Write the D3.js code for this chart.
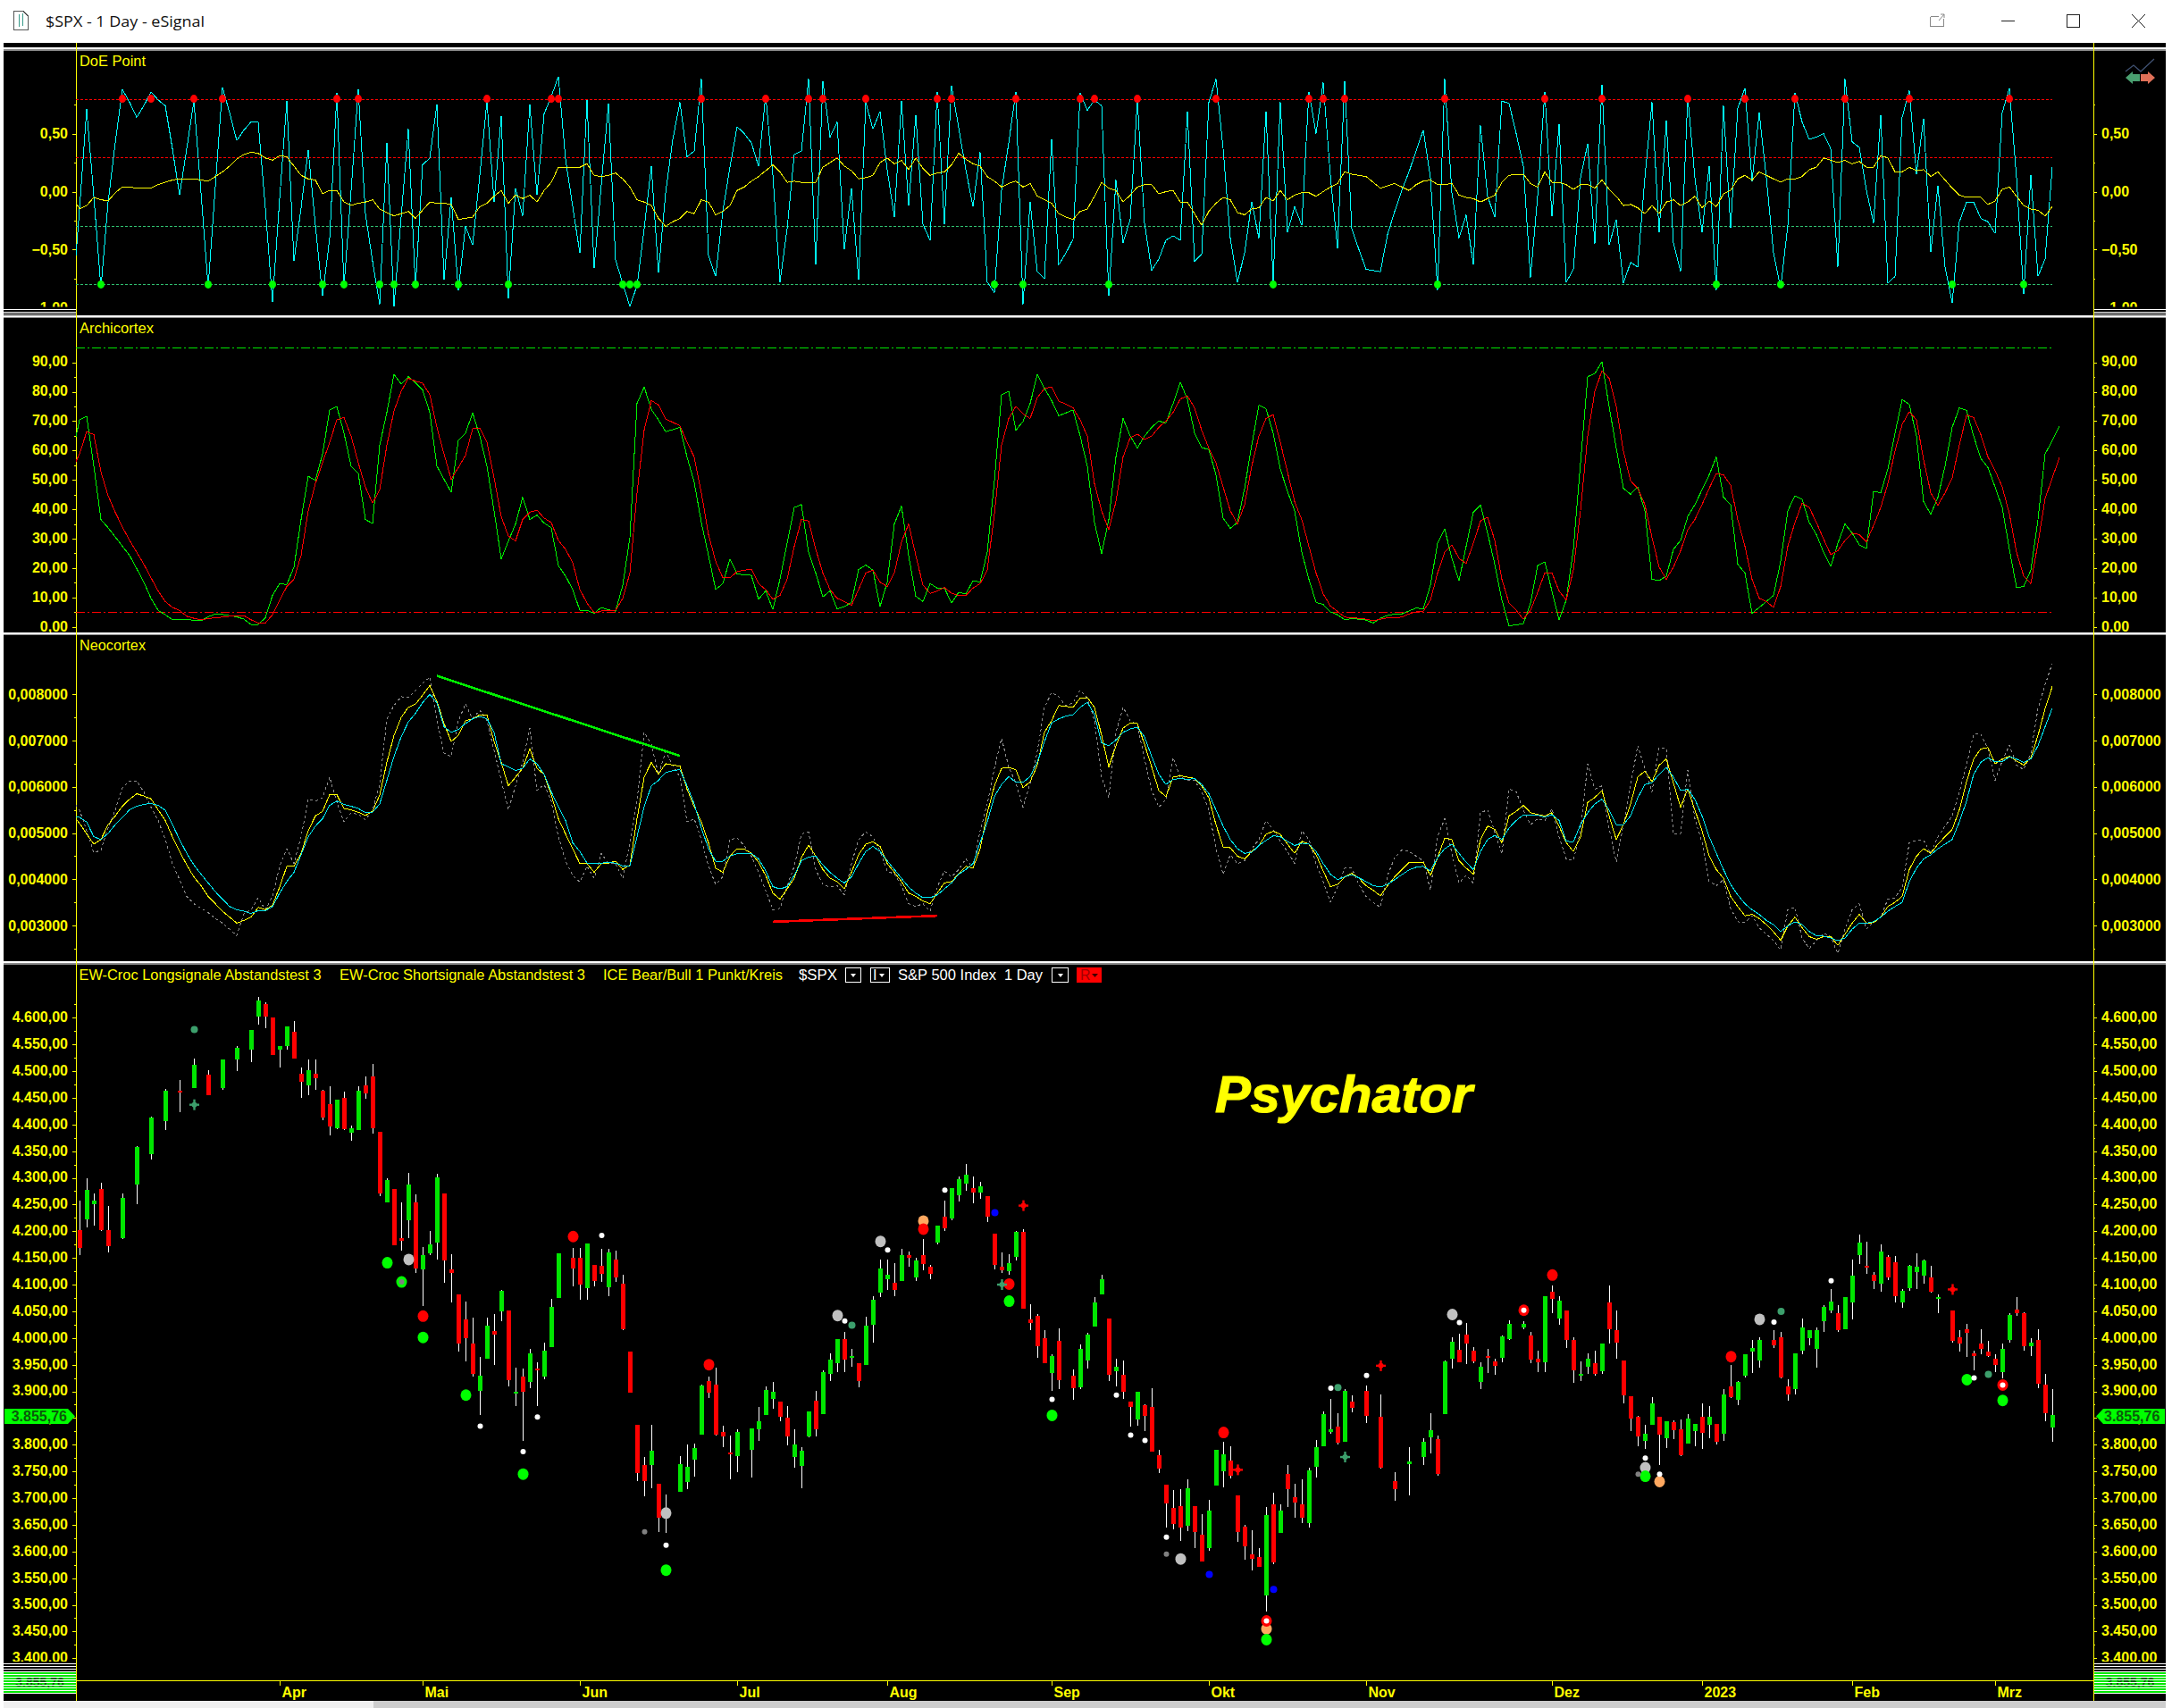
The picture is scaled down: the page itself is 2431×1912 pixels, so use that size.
<!DOCTYPE html>
<html><head><meta charset="utf-8"><title>$SPX - 1 Day - eSignal</title>
<script src="https://cdn.jsdelivr.net/npm/d3@7"></script>
<style>html,body{margin:0;padding:0;background:#fff;overflow:hidden}svg{display:block}
text{font-family:"Liberation Sans",Arial,sans-serif}</style></head><body><div id="c"></div>
<script>
// ---------- Price panel candles (null = bar is not visible in the chart) ----------
const opens=[4202,4222,4251,4279,4202,null,4187,null,4287,null,4344,null,4406,null,4463,null,4468,null,4493,null,
4468,null,4522,null,4540,4602,4626,4600,4540,4547,4574,4495,4473,4495,4463,4438,4393,4450,4385,4390,
4473,4490,4386,4254,4279,4187,4220,4254,4128,4159,4179,4271,4128,4082,4035,3990,3901,3961,4013,4050,
4051,3896,3927,3917,3942,3927,3983,4075,null,4150,4150,4093,4137,4135,4095,4147,4102,3974,3837,3762,
3762,3727,3664,null,3712,3731,3772,3819,3919,3912,3824,3786,3779,null,3791,3829,3856,3886,3881,3851,
3777,3761,3816,3882,3857,3932,3953,3998,3963,3953,3949,4025,4085,4110,4103,4107,4155,4113,4155,4134,
4179,4227,4224,4267,4289,4281,4272,4265,4195,4134,4125,4152,4199,4034,4041,4000,3934,3995,null,3929,
3907,3958,4021,4082,4036,3938,3931,3881,3847,3874,3870,3780,3725,3681,3685,3648,3685,3631,3606,3724,
3750,3770,3705,3646,3594,3589,3517,3688,3634,3745,3701,3688,3653,3758,3797,3824,3834,3805,3881,null,
3901,null,3852,null,3732,null,3763,null,3777,3814,3810,3857,3961,3978,4006,3976,3917,3966,3956,3963,
3998,null,4020,4004,3962,3954,4086,4037,4051,3996,3930,3946,3952,3937,4067,4014,3957,3891,3852,3807,
3837,3852,3812,3842,3829,3802,3825,3852,3837,3839,3820,3909,3885,3929,3974,3957,null,3997,4001,3910,
3905,3976,3999,3980,4032,4051,4047,4017,4067,4156,4136,4119,4102,4152,4142,4066,4094,4124,4116,4114,
4074,null,4051,4001,4017,3972,3990,3975,3962,3936,3996,4054,4047,3984,3997,3912,3832];
const closes=[4169,4277,4258,4203,4172,null,4262,null,4358,null,4413,null,4463,null,4460,null,4512,null,4455,null,
4522,null,4544,null,4577,4632,4602,4530,4547,4584,4524,4480,4502,4487,4413,4396,4446,4391,4393,4463,
4458,4393,4271,4296,4174,4182,4287,4130,4155,4175,4301,4145,4122,3990,4000,3933,3929,4023,4006,4088,
3921,3899,3899,3972,3939,3977,4058,4159,null,4130,4100,4177,4107,4120,4160,4113,4016,3897,3747,3732,
3789,3664,3674,null,3764,3759,3794,3911,3897,3819,3816,3782,3824,null,3831,3844,3902,3899,3852,3816,
3801,3789,3862,3829,3936,3959,3998,3959,3966,3919,4023,4072,4130,4118,4090,4155,4150,4145,4138,4120,
4210,4205,4281,4298,4306,4272,4284,4227,4137,4127,4140,4199,4055,4028,3984,3953,3966,3921,null,3906,
3979,4006,4067,4110,3931,3946,3899,3870,3899,3854,3787,3755,3690,3651,3645,3718,3636,3582,3677,3790,
3782,3742,3636,3610,3586,3572,3668,3579,3677,3717,3691,3663,3752,3795,3857,3829,3804,3901,3869,null,
3854,null,3757,null,3717,null,3769,null,3805,3827,3745,3956,3993,3955,3989,3956,3946,3963,3948,4003,
4026,null,4026,3960,3954,4079,4074,4070,3996,3939,3932,3962,3932,3989,4017,3992,3892,3849,3815,3820,
3877,3819,3844,3827,3780,3849,3839,3822,3852,3805,3894,3889,3917,3969,3982,3997,null,3987,3926,3895,
3971,4019,4015,4015,4059,4069,4015,4076,4117,4179,4134,4107,4162,4114,4079,4089,4136,4134,4146,4087,
4077,null,3994,3989,4009,3967,3979,3967,3949,3980,4044,4046,3984,3991,3915,3859,3856];
const highs=[4258,4299,4270,4291,4247,null,4271,null,4360,null,4414,null,4467,null,4483,null,4523,null,4502,null,
4522,null,4547,null,4577,4639,4629,4600,4547,4584,4594,4507,4522,4522,4465,4472,4446,4462,4398,4472,
4490,4513,4386,4299,4279,4254,4309,4269,4170,4200,4308,4271,4157,4082,4069,4038,3964,4038,4045,4090,
4051,3944,3942,3980,3954,3991,4074,4159,null,4169,4169,4177,4137,4167,4167,4164,4119,3974,3837,3777,
3837,3727,3707,null,3779,3801,3802,3912,3927,3944,3836,3817,3829,null,3831,3871,3909,3917,3881,3872,
3829,3796,3862,3901,3939,3972,3998,4011,3979,3953,4040,4078,4147,4147,4140,4167,4162,4151,4186,4137,
4210,4257,4281,4303,4326,4303,4293,4265,4195,4160,4157,4200,4204,4063,4045,4015,3969,4018,null,3941,
3988,4010,4077,4119,4036,3961,3958,3881,3899,3876,3906,3790,3725,3715,3717,3735,3685,3670,3696,3790,
3805,3797,3705,3650,3639,3606,3683,3710,3688,3762,3727,3735,3757,3809,3862,3886,3859,3904,3893,null,
3911,null,3894,null,3748,null,3795,null,3812,3859,3817,3958,4001,4008,4028,3983,3955,3979,3961,4005,
4033,null,4032,4011,3976,4079,4099,4079,4051,4001,3956,3972,3976,3989,4099,4052,3957,3891,3854,3837,
3889,3852,3844,3845,3847,3857,3839,3877,3872,3839,3905,3949,3919,3969,3997,4002,null,4014,4012,3922,
3972,4037,4015,4019,4061,4092,4062,4076,4147,4194,4181,4124,4176,4156,4154,4092,4137,4159,4147,4136,
4081,null,4051,4015,4027,3977,4017,3995,3970,3989,4047,4077,4049,3999,4017,3932,3904];
const lows=[4155,4208,4211,4200,4161,null,4185,null,4250,null,4334,null,4390,null,4423,null,4468,null,4455,null,
4465,null,4500,null,4517,4587,4580,4530,4507,4540,4524,4450,4455,4465,4408,4380,4391,4390,4370,4390,
4448,4383,4266,4254,4174,4164,4187,4122,4060,4155,4147,4103,4067,3974,3956,3928,3856,3961,3949,4031,
3909,3873,3807,3906,3872,3922,3983,4075,null,4097,4072,4072,4097,4105,4078,4105,4015,3897,3732,3704,
3719,3637,3634,null,3712,3716,3741,3819,3887,3817,3796,3736,3749,null,3739,3807,3856,3867,3844,3799,
3757,3719,3814,3816,3857,3919,3936,3936,3946,3908,3949,3991,4077,4090,4078,4107,4134,4106,4127,4110,
4176,4201,4220,4256,4276,4252,4260,4217,4129,4122,4119,4145,4055,4015,3963,3953,3901,3904,null,3884,
3904,3943,4021,4082,3919,3909,3886,3834,3836,3825,3787,3747,3645,3641,3620,3638,3606,3581,3601,3724,
3720,3737,3618,3584,3564,3572,3487,3576,3634,3683,3663,3653,3645,3738,3797,3820,3800,3805,3860,null,
3841,null,3755,null,3695,null,3705,null,3762,3784,3742,3857,3943,3955,3951,3953,3904,3934,3931,3955,
3996,null,4017,3952,3936,3936,4047,4024,3982,3916,3920,3932,3930,3932,3990,3962,3877,3826,3797,3792,
3837,3762,3794,3810,3779,3802,3797,3792,3812,3800,3807,3887,3874,3926,3934,3945,null,3982,3924,3882,
3895,3969,3987,3945,4011,4046,4012,4017,4034,4139,4121,4091,4086,4109,4067,4057,4089,4092,4101,4085,
4046,null,3992,3974,3965,3940,3970,3965,3936,3925,3992,4042,3977,3967,3906,3844,3805];
// ---------- Signal markers on the price panel: [bar, price] ----------
const bigGreen=[[43,4141],[45,4105],[48,4001],[54,3893],[62,3745],[82,3565],[130,4069],[136,3855],[166,3435],[219,3741],[264,3922],[269,3883]];
const bigRed=[[48,4041],[69,4190],[88,3950],[118,4204],[130,4101],[160,3823],[206,4118],[231,3965]];
const bigSilver=[[46,4147],[82,3672],[106,4042],[112,4181],[154,3586],[192,4044],[219,3757],[235,4035]];
const bigOrange=[[118,4219],[166,3455],[221,3731]];
const smallWhite=[[56,3835],[62,3787],[64,3852],[73,4192],[82,3612],[107,4032],[113,4165],[121,4277],[136,3885],[145,3893],[147,3818],[149,3808],[152,3627],[175,3906],[180,3930],[193,4029],[219,3775],[221,3745],[237,4030],[245,4107],[265,3925]];
const smallGray=[[45,4105],[79,3637],[152,3595],[218,3745]];
const tealDots=[[16,4578],[108,4024],[176,3907],[238,4050],[267,3932]];
const blueDots=[[128,4235],[158,3557],[167,3529]];
const tealPlus=[[16,4437],[129,4100],[177,3777]];
const redPlus=[[132,4248],[162,3753],[182,3948],[262,4091]];
const rings=[[166,3470],[202,4052],[269,3912]];
// ---------- DoE Point (first value is the clipped bar before bar 0) ----------
const doeCyan=[-.96,-.15,.71,-.04,-.83,-.09,.42,.88,.77,.64,.74,.86,.79,.74,.37,-.03,.37,.78,-.01,-.82,.04,.90,.68,.44,.53,.60,.60,-.14,-.95,-.06,.78,-.60,-.14,.36,-.29,-.90,-.40,.85,-.82,.01,.88,-.19,-.60,-.97,.42,-.99,-.22,.54,-.83,.23,.29,.75,-.76,-.05,-.85,-.30,-.46,.14,.78,-.09,.65,-.92,.03,-.21,.75,-.03,.67,.82,.99,.28,-.13,-.53,.79,-.66,.06,.76,-.59,-.79,-.99,-.81,-.32,.22,-.70,-.01,.45,.77,.30,.35,.97,-.55,
-.73,-.17,.21,.56,.50,.42,.22,.83,.14,-.78,-.32,.32,.35,.97,-.63,.95,.47,.60,-.50,.03,-.76,.77,.54,.69,.19,-.22,.78,-.12,.66,-.28,-.42,.86,-.28,.91,.55,.19,-.13,.34,-.78,-.87,.01,.42,.86,-.97,-.09,-.69,-.75,.45,-.63,-.53,-.41,.85,.70,.79,.74,-.90,.10,-.44,-.24,.79,-.27,-.68,-.58,-.42,-.38,-.42,.69,-.60,-.54,.77,.97,.37,-.40,-.78,-.53,-.09,-.40,.69,-.78,.77,-.35,-.13,-.29,.86,.50,.94,.14,-.49,.95,-.32,-.50,-.67,-.68,-.69,-.37,-.17,.01,.17,.35,.53,.12,-.85,.97,-.01,
-.40,-.20,-.63,.57,-.04,-.22,.78,.76,.50,.22,-.74,-.04,.86,-.21,.58,-.78,-.67,.12,.41,-.45,.92,-.46,-.24,-.79,-.61,-.65,.12,.77,-.35,.61,-.44,-.69,.82,.12,-.35,.22,-.85,.74,-.31,.72,.89,.09,.68,.12,-.53,-.83,-.29,.85,.60,.45,.47,.50,.37,-.65,.97,.43,.38,.01,-.27,.66,-.79,-.73,.64,.87,.15,.63,-.52,.05,-.65,-.96,-.26,-.09,-.09,-.23,-.26,-.36,.68,.89,.12,-.88,.14,-.73,-.58,.21];
const doeYellow=[-.04,-.15,-.12,-.05,-.07,-.08,-.01,.04,.04,.03,.03,.03,.06,.08,.10,.11,.11,.11,.10,.09,.13,.17,.22,.28,.32,.34,.33,.29,.27,.31,.30,.22,.14,.11,.10,-.02,.01,.01,-.09,-.12,-.10,-.09,-.07,-.15,-.18,-.21,-.19,-.17,-.23,-.16,-.09,-.10,-.10,-.11,-.24,-.23,-.22,-.13,-.10,-.04,.01,-.10,-.03,-.06,-.03,-.09,.01,.08,.21,.21,.21,.21,.24,.14,.13,.14,.16,.11,.04,-.07,-.09,-.12,-.23,-.30,-.26,-.23,-.17,-.19,-.07,-.09,
-.20,-.17,-.12,.01,.04,.09,.13,.18,.23,.17,.08,.09,.08,.08,.08,.21,.25,.29,.22,.18,.11,.12,.14,.25,.29,.24,.27,.19,.29,.20,.14,.16,.17,.23,.33,.28,.24,.22,.13,.09,.04,.07,.09,.04,.07,-.04,-.07,-.10,-.19,-.22,-.24,-.17,-.15,-.04,.08,.03,.01,-.09,-.03,.04,.06,.06,-.02,0,.01,-.09,-.09,-.19,-.29,-.17,-.10,-.05,-.07,-.18,-.20,-.15,-.14,-.05,-.08,.01,-.07,-.03,-.01,-.01,-.04,0,.04,.07,.17,.15,.14,.13,.08,.03,.05,.07,.04,.01,.06,.09,.10,.06,.06,.07,
-.03,-.05,-.06,-.09,-.06,-.03,.08,.14,.15,.15,.07,.04,.17,.08,.08,.06,.02,.06,.06,.03,.10,.02,-.04,-.12,-.11,-.14,-.19,-.12,-.19,-.09,-.07,-.12,-.09,-.04,-.14,-.08,-.13,-.02,.01,.11,.14,.10,.17,.14,.11,.08,.11,.11,.13,.19,.21,.29,.27,.25,.27,.24,.26,.21,.21,.31,.29,.17,.17,.21,.18,.19,.13,.17,.10,.03,-.03,-.05,-.05,-.05,-.11,-.08,.02,.04,-.04,-.12,-.15,-.16,-.21,-.13];
const doeHighDots=[6,10,16,20,36,39,57,66,67,87,96,102,104,110,120,122,131,140,142,148,159,172,174,177,191,205,213,225,233,240,247,256,270];
const doeLowDots=[-1,3,18,27,34,37,42,44,47,53,60,76,77,78,128,132,144,167,190,229,238,262,272];
const doeLevels=[0.8,0.3,-0.3,-0.8];
// ---------- Archicortex (first value is the clipped bar before bar 0) ----------
const archiGreen=[58.8,70.4,71.6,54.7,36.5,33.7,30.6,27.4,24.3,19.8,15.2,9.7,5.6,4.1,2.4,2.4,2.4,2.3,2.1,3.4,4.4,4.2,3.8,3.4,2.6,.8,.8,3.1,10.7,14.7,14.4,20.3,36.5,51.2,49.9,58.8,73.8,75,65.9,54.7,52.2,36.5,35.2,61.8,73,85.9,82.6,85.1,83.1,80.6,73,54.7,50.2,45.8,63.4,65.9,72.8,64.9,54.7,39.5,23.1,29.2,35,44.1,36.5,38,35.3,33.7,20.8,17.3,12.7,5.6,5.6,4.6,6.6,5.8,5.3,14.2,30.4,76,81.6,74,70.4,66.4,67.1,67.9,57.8,49.2,35.5,24.3,12.7,14.7,23.1,18,17.7,17.5,9.4,12.2,5.9,16.2,28.4,40.6,41.6,25.4,18.3,10.2,12.2,6.1,6.9,8.3,19.5,21,19.3,6.9,15.2,35,41.1,24.3,10.4,8.6,14.7,13.2,13.2,8.1,11.7,11.2,15.7,15.2,25.4,49.7,78.9,80.1,66.9,69.9,76,85.9,81.1,77,71.8,
72.8,73.8,64.9,54.7,35.5,24.9,36.5,57.8,70.9,64.9,60.8,64.9,67.9,70,69.4,76,83.3,77.5,65.9,61,60.3,51.7,37,33.5,35.5,47.1,61.8,75.4,74.2,65.9,53.7,46.1,39.5,25.4,16.2,8.3,7.6,5.1,4.1,2.4,2.8,2.6,2.3,1.3,2.9,3.9,4.3,4.4,5.4,6.4,6.1,14.2,28.4,33.3,23.3,15.7,27.4,39,41.4,31.9,21.3,9.1,.3,.7,1,8.1,20.8,22.1,12.2,2.4,9.1,26.4,55.8,85.1,86.2,90.2,75,60.8,47.1,45.1,47.6,39.5,16.2,15.7,17.3,26.4,29.4,37.5,41.6,46.6,51.7,57.8,44.1,41.6,21.3,18.3,4.6,6.6,8.6,10.7,22.3,39.5,44.6,43.4,35.5,31.4,25.4,20.5,28.4,35,31.9,27.9,26.6,46.1,45.6,53.7,65.9,77.3,75.7,64.9,42.6,38.3,44.1,54.7,67.9,74.5,73.7,64.9,57.3,54.2,47.6,40.6,26.4,13.4,13.7,19.3,36.5,58.8,63.4,68.4];
const archiRed=[53.7,58.8,66.4,65.4,52.7,44.6,39,34,29.4,25.4,21.3,16.7,12.2,8.6,6.6,5.6,3.6,2.9,2.4,2.8,3.1,3.3,3.6,3.8,3.8,2.4,1.3,1.3,4.1,9.1,13.7,16.2,24.3,39.5,48.7,55.8,62.8,70.4,71.2,64.9,55.8,47.6,42.1,46.6,61.8,73.5,80.1,84.6,83.6,82.9,79,67.9,58.8,50.2,54.2,58.3,67.4,67.7,62.8,50.7,37.5,30.9,29.2,36.5,39,39.7,37,35.5,29.4,26.4,21.8,12.7,8.1,4.8,5.4,5.6,5.6,9.7,18.3,45.6,66.9,77,75.5,70.7,69.6,68.4,62.8,57.8,45.6,31.4,22.3,16.7,16.7,18.8,19.3,19.6,14.7,12.7,9.4,10.7,16.2,27.4,36.5,36,26.4,18.3,12.7,9.7,8.6,7.3,12.7,18.3,19.3,15.2,13.7,18.3,28.9,35,24.3,14.2,11.4,12.2,13.4,11.4,10.7,10.7,13.2,14.7,19.3,38.5,61.8,70.9,75,72.5,70.9,78,81.1,81.6,76.8,
75.8,74.5,70.4,64.9,48.7,39.5,33,42.6,57.8,64.4,65.6,63.7,64.9,67.9,70,73,77.5,78.6,74.5,66.9,60.8,55.8,47.6,39.5,35,41.6,54.7,64.9,70.9,72.2,62.8,52.7,42.6,36.5,27.4,18.3,11.2,7.1,5.3,3.3,3.1,2.9,2.6,2.1,2.6,3.1,3.1,3.3,4.4,5.1,5.3,9.1,18.3,25.4,27.9,23.3,21.5,28.4,36,37.3,29.4,16.2,8.1,5.6,2.6,5.6,11.7,18.3,18.3,12.2,9.1,19.3,39.5,64.9,80.1,87.2,84.6,75,59.8,49.7,47.1,41.6,30.4,20.3,16.2,20.3,25.9,33,36.5,41.6,47.1,52.2,51.7,48.2,36.5,27.4,16.2,9.7,8.6,6.6,13.7,27.4,35.5,42.1,40.6,35.5,29.9,24.6,25.9,29.4,31.9,31.4,28.9,34.5,40.6,48.7,59.8,68.9,73.2,70.4,56.8,45.6,41.4,45.6,50.7,61.8,72,71.2,65.4,57.8,53.2,47.6,38.5,25.4,17.3,14.7,28.4,43.6,50.7,57.5];
const archiLevels=[95,5];
// ---------- Neocortex, in thousandths (first value is the clipped bar before bar 0) ----------
const neoYellow=[5.4,5.21,4.98,4.76,4.86,5.18,5.37,5.58,5.73,5.85,5.80,5.74,5.50,5.27,4.92,4.60,4.31,4.05,3.86,3.63,3.47,3.31,3.18,3.05,3.11,3.18,3.39,3.34,3.44,3.83,4.28,4.28,4.56,5.05,5.37,5.47,5.83,5.83,5.53,5.50,5.45,5.38,5.47,5.82,6.53,7.11,7.50,7.72,7.79,7.98,8.19,7.85,7.37,6.98,7.11,7.43,7.47,7.56,7.56,6.98,6.53,6.02,6.21,6.40,6.82,6.40,6.27,5.82,5.31,4.98,4.66,4.34,4.34,4.15,4.34,4.35,4.39,4.21,4.31,5.31,6.21,6.53,6.27,6.50,6.47,6.45,5.95,5.57,5.24,4.79,4.24,4.15,4.50,4.66,4.65,4.56,4.37,4.08,3.70,3.57,3.79,4.02,4.47,4.74,4.50,4.21,4.02,3.95,3.79,4.15,4.53,4.76,4.81,4.71,4.34,4.15,3.95,3.70,3.63,3.53,3.47,3.70,3.92,3.95,4.11,4.28,4.24,4.66,5.43,6.02,6.40,6.42,6.37,5.98,6.11,6.47,7.18,7.43,7.76,7.74,
7.72,7.92,7.93,7.72,7.11,6.43,6.89,7.27,7.38,7.37,6.92,6.43,5.92,5.79,6.21,6.24,6.21,6.18,6.02,5.76,5.18,4.70,4.68,4.50,4.44,4.60,4.73,4.97,5.04,4.97,4.76,4.56,4.82,4.76,4.53,4.18,3.84,3.89,4.05,4.13,4.02,3.86,3.76,3.64,3.86,4.05,4.21,4.36,4.37,4.37,4.08,4.47,4.89,4.86,4.40,4.24,4.11,4.86,5.15,5.08,4.79,5.37,5.47,5.60,5.44,5.40,5.37,5.44,5.15,4.79,4.60,4.92,5.66,5.77,5.92,5.37,4.86,5.18,5.63,6.21,6.34,6.11,6.47,6.60,6.08,5.56,5.95,5.50,5.05,4.50,4.21,4.02,3.63,3.41,3.21,3.24,3.15,3.02,2.86,2.68,2.99,3.18,2.95,2.76,2.70,2.76,2.76,2.57,2.81,3.05,3.24,3.05,3.06,3.18,3.41,3.50,3.63,4.21,4.50,4.66,4.56,4.76,4.92,5.08,5.50,6.11,6.60,6.82,6.85,6.50,6.60,6.66,6.56,6.47,6.63,7.11,7.69,8.17];
const neoCyan=[5.36,5.34,5.24,4.92,4.86,4.99,5.18,5.34,5.50,5.58,5.62,5.64,5.60,5.49,5.18,4.86,4.56,4.31,4.11,3.92,3.73,3.57,3.41,3.34,3.31,3.26,3.32,3.32,3.41,3.70,3.95,4.15,4.53,4.92,5.15,5.31,5.60,5.69,5.62,5.58,5.53,5.44,5.45,5.63,6.14,6.66,7.08,7.40,7.59,7.82,8.00,7.82,7.30,7.18,7.24,7.37,7.47,7.52,7.47,7.18,6.50,6.43,6.35,6.40,6.60,6.50,6.27,5.89,5.57,5.27,4.79,4.60,4.35,4.34,4.35,4.36,4.35,4.29,4.29,4.92,5.57,6.02,6.14,6.31,6.35,6.37,6.02,5.63,5.11,4.66,4.39,4.39,4.50,4.55,4.56,4.56,4.44,4.18,3.84,3.79,3.84,4.08,4.40,4.48,4.50,4.31,4.15,4.02,3.92,4.05,4.34,4.60,4.71,4.60,4.40,4.21,4.02,3.83,3.70,3.60,3.60,3.66,3.79,3.92,4.11,4.21,4.34,4.79,5.24,5.79,6.05,6.22,6.10,6.10,6.22,6.53,6.98,7.38,7.47,7.53,
7.56,7.72,7.83,7.56,6.95,6.89,7.01,7.18,7.25,7.29,7.08,6.66,6.27,6.05,6.16,6.18,6.16,6.18,6.05,5.85,5.50,5.15,4.86,4.66,4.56,4.58,4.73,4.84,4.94,4.92,4.82,4.73,4.78,4.76,4.60,4.34,4.11,3.99,4.05,4.10,4.03,3.95,3.86,3.83,3.89,3.99,4.10,4.20,4.26,4.28,4.18,4.47,4.66,4.76,4.56,4.37,4.21,4.60,4.86,4.95,4.86,5.11,5.27,5.39,5.39,5.39,5.34,5.40,5.27,4.82,4.81,5.18,5.44,5.63,5.73,5.50,5.18,5.18,5.37,5.76,6.05,6.09,6.27,6.42,6.21,5.92,5.95,5.73,5.37,4.92,4.56,4.21,3.89,3.66,3.47,3.34,3.24,3.11,3.02,2.87,2.99,3.08,3.02,2.87,2.78,2.77,2.73,2.67,2.73,2.92,3.05,3.05,3.08,3.18,3.31,3.41,3.50,3.95,4.24,4.44,4.53,4.66,4.76,4.86,5.24,5.69,6.27,6.53,6.63,6.54,6.54,6.65,6.60,6.53,6.60,6.89,7.30,7.70];
const neoGray=[5.7,5.50,5.05,4.57,4.63,5.11,5.50,5.98,6.13,6.13,5.89,5.56,5.27,4.86,4.34,3.99,3.63,3.47,3.37,3.28,3.15,3.05,2.92,2.78,3.25,3.34,3.60,3.34,3.63,4.28,4.66,4.34,4.92,5.73,5.69,5.76,6.21,5.66,5.24,5.44,5.40,5.29,5.50,6.05,7.47,7.76,7.95,7.93,8.08,8.24,8.37,7.43,6.73,6.65,7.43,7.79,7.47,7.66,7.43,6.79,6.14,5.50,6.02,6.53,7.27,5.92,6.05,5.69,4.92,4.40,4.08,3.94,4.28,4.02,4.56,4.34,4.34,4.02,4.79,5.69,7.18,6.92,6.27,6.76,6.47,6.21,5.24,5.31,4.86,4.28,3.89,4.05,4.86,4.89,4.73,4.50,4.15,3.76,3.34,3.37,3.86,4.28,4.98,5.02,4.21,3.89,3.83,3.86,3.66,4.34,4.86,5.02,4.92,4.60,4.18,4.11,3.86,3.47,3.41,3.47,3.31,3.83,4.18,4.05,4.21,4.44,4.24,5.05,5.63,6.40,7.05,6.43,6.08,5.56,6.08,6.76,7.72,8.04,7.95,7.75,
7.82,8.09,7.92,7.43,6.21,5.77,7.18,7.72,7.43,7.34,6.60,5.92,5.56,5.73,6.63,6.21,6.14,6.14,5.89,5.50,4.66,4.11,4.53,4.34,4.40,4.66,4.86,5.27,5.08,4.82,4.60,4.34,5.05,4.86,4.34,3.95,3.50,3.83,4.24,4.24,3.89,3.63,3.50,3.39,4.08,4.47,4.63,4.60,4.50,4.40,3.76,4.92,5.31,4.56,3.92,4.08,3.92,5.44,5.50,5.02,4.55,5.95,5.89,5.50,5.18,5.31,5.27,5.53,4.92,4.44,4.40,5.05,6.50,5.95,6.02,5.11,4.37,5.18,6.02,6.89,6.40,5.89,6.85,6.82,4.98,4.98,6.37,5.31,4.79,3.95,3.86,3.99,3.37,3.08,3.06,3.21,2.95,2.81,2.67,2.47,3.34,3.39,2.73,2.50,2.67,2.83,2.76,2.39,2.92,3.34,3.47,2.92,3.08,3.18,3.57,3.60,3.83,4.79,4.84,4.84,4.56,4.92,5.15,5.37,5.89,6.47,7.14,7.14,6.82,6.14,6.56,6.90,6.47,6.37,6.73,7.69,8.21,8.67];
const neoTrendGreen=[[50,8.40],[84,6.67]];
const neoTrendRed=[[97,3.08],[120,3.21]];
// ---------- Axis ticks and labels ----------
const doeTicks=[0.5,0,-0.5,-1], doeMinor=[0.75,0.25,-0.25,-0.75];
const archiTicks=[0,10,20,30,40,50,60,70,80,90], archiMinor=[5,15,25,35,45,55,65,75,85];
const neoTicks=[3,4,5,6,7,8], neoMinor=[2.5,3.5,4.5,5.5,6.5,7.5];
const priceTicks=d3.range(3400,4601,50), priceMinor=d3.range(3425,4626,50);
const monthBars=[28,48,70,92,113,136,158,180,206,227,248,268];
const monthLabels=["Apr","Mai","Jun","Jul","Aug","Sep","Okt","Nov","Dez","2023","Feb","Mrz"];
const lastPrice=3855.76;

const W=2431,H=1912,AL=85,AR=2343;
const YEL="#ffff00",GRN="#00e600",RED="#ff0000";
const svg=d3.select("#c").append("svg").attr("width",W).attr("height",H).attr("viewBox",`0 0 ${W} ${H}`);
const x=d3.scaleLinear().domain([0,276]).range([89,2297]);
const yDoe=d3.scaleLinear().domain([1,-1]).range([84.6,344.4]);
const yArchi=d3.scaleLinear().domain([0,90]).range([701.7,405.6]);
const yNeo=d3.scaleLinear().domain([8,3]).range([777.3,1036]);
const yPrice=d3.scaleLinear().domain([4600,3400]).range([1139.3,1856.3]);
const de=d3.formatLocale({decimal:",",thousands:".",grouping:[3],currency:["",""]});
const f2=de.format(",.2f"), f6=de.format(".6f");

// window frame
svg.append("rect").attr("width",W).attr("height",H).attr("fill","#fff");
svg.append("rect").attr("x",4).attr("y",48).attr("width",2420).attr("height",1856).attr("fill","#000");
svg.append("rect").attr("x",4).attr("y",1904).attr("width",414).attr("height",8).attr("fill","#f0f0f0");
svg.append("rect").attr("x",418).attr("y",1904).attr("width",2006).attr("height",8).attr("fill","#cdcdcd");
svg.append("text").attr("x",51).attr("y",29.5).attr("fill","#111").attr("font-size",16.5).style("font-family","'Open Sans'").attr("textLength",178).attr("lengthAdjust","spacingAndGlyphs").text("$SPX - 1 Day - eSignal");
const ic=svg.append("g").attr("fill","none").attr("stroke","#555").attr("shape-rendering","crispEdges");
ic.append("path").attr("d","M15.5 12.5H26L31.5 18V33.5H15.5Z");
ic.append("path").attr("d","M21.5 16V30M25.5 15V29").attr("stroke","#3a9a8a");
ic.append("path").attr("d","M2160.5 18.5H2170M2160.5 18.5V29.5H2175.5V21").attr("stroke","#888");
ic.append("path").attr("d","M2170 23L2176 16M2172 16H2176V20").attr("stroke","#888").attr("shape-rendering","auto");
ic.append("path").attr("d","M2240 23.5H2255").attr("stroke","#222");
ic.append("rect").attr("x",2313.5).attr("y",16.5).attr("width",14).attr("height",14).attr("stroke","#222");
ic.append("path").attr("d","M2386 16L2401 31M2401 16L2386 31").attr("stroke","#222").attr("shape-rendering","auto");

// separators
[[53,2,2],[353,2,1],[708,2,1],[1076,2,2]].forEach(([a,wh,gr])=>{
  svg.append("rect").attr("x",4).attr("y",a).attr("width",2420).attr("height",wh).attr("fill","#fff");
  svg.append("rect").attr("x",4).attr("y",a+wh).attr("width",2420).attr("height",gr).attr("fill","#8a8a8a");
});
[346,349,351].forEach(v=>{
  svg.append("rect").attr("x",4).attr("y",v).attr("width",81).attr("height",1).attr("fill","#fff");
  svg.append("rect").attr("x",AR).attr("y",v).attr("width",81).attr("height",1).attr("fill","#fff");
});

// clip regions
const defs=svg.append("defs");
function clip(id,y0,y1,x0=AL,x1=AR){defs.append("clipPath").attr("id",id).append("rect").attr("x",x0).attr("y",y0).attr("width",x1-x0).attr("height",y1-y0);}
clip("p1",57,346);clip("p2",356,708);clip("p3",711,1076);clip("p4",1080,1881);
clip("l1",57,343.5,0,W);clip("l2",356,708,0,W);clip("l3",711,1076,0,W);clip("l4",1080,1860,0,W);

function axes(y,major,minor,fmt,clipId,dy){
  [[d3.axisLeft,AL],[d3.axisRight,AR]].forEach(([A,px])=>{
    const g=svg.append("g").attr("clip-path",`url(#${clipId})`).append("g").attr("transform",`translate(${px},0)`);
    g.call(A(y).tickValues(major).tickFormat(fmt).tickSize(4).tickPadding(5));
    g.append("g").call(A(y).tickValues(minor).tickFormat("").tickSize(2));
    g.selectAll(".domain").remove();
    g.selectAll("line").attr("stroke",YEL).attr("shape-rendering","crispEdges");
    g.selectAll("text").attr("fill",YEL).attr("font-size",16).attr("font-weight","bold").attr("dy",dy).style("font-family","'Liberation Sans'");
  });
}
axes(yDoe,doeTicks,doeMinor,f2,"l1",".32em");
axes(yArchi,archiTicks,archiMinor,f2,"l2",".27em");
axes(yNeo,neoTicks,neoMinor,d=>f6(d/1000),"l3",".32em");
axes(yPrice,priceTicks,priceMinor,f2,"l4",".27em");

// axis frame lines
[AL,AR].forEach(px=>svg.append("rect").attr("x",px).attr("y",48).attr("width",1).attr("height",1856).attr("fill",YEL));

// x axis
const xg=svg.append("g").attr("transform","translate(0,1881)");
xg.call(d3.axisBottom(x).tickValues(monthBars).tickFormat((d,i)=>monthLabels[i]).tickSize(6).tickPadding(2));
xg.select(".domain").remove();
xg.selectAll("line").attr("stroke",YEL).attr("shape-rendering","crispEdges");
xg.selectAll("text").attr("fill",YEL).attr("font-size",16).attr("font-weight","bold").attr("text-anchor","start").attr("x",2).style("font-family","'Liberation Sans'");
svg.append("rect").attr("x",AL).attr("y",1881).attr("width",AR-AL).attr("height",1).attr("fill",YEL);

// helpers
function poly(g,vals,y,color,w=1,dash=null){
  const ln=d3.line().x((d,i)=>x(i-1)).y(d=>y(d));
  const p=g.append("path").attr("d",ln(vals)).attr("fill","none").attr("stroke",color).attr("stroke-width",w).attr("shape-rendering","crispEdges");
  if(dash)p.attr("stroke-dasharray",dash);
  return p;
}
function level(g,v,y,color,dash,x1=2297){
  g.append("line").attr("x1",AL).attr("x2",x1).attr("y1",Math.round(y(v))+.5).attr("y2",Math.round(y(v))+.5).attr("stroke",color).attr("stroke-dasharray",dash).attr("shape-rendering","crispEdges");
}
function title(t,px,py,len,fill=YEL){
  svg.append("text").attr("x",px).attr("y",py).attr("fill",fill).attr("font-size",16).attr("textLength",len).attr("lengthAdjust","spacingAndGlyphs").text(t);
}

// DoE Point
const g1=svg.append("g").attr("clip-path","url(#p1)");
level(g1,doeLevels[0],yDoe,RED,"3,2");level(g1,doeLevels[1],yDoe,RED,"3,2");
level(g1,doeLevels[2],yDoe,"#30c070","3,2");level(g1,doeLevels[3],yDoe,"#30c070","3,2");
poly(g1,doeCyan,yDoe,"#00ffff");
poly(g1,doeYellow,yDoe,"#f4f400");
g1.selectAll(".hi").data(doeHighDots).join("ellipse").attr("cx",d=>x(d)).attr("cy",yDoe(doeLevels[0])).attr("rx",4).attr("ry",4.5).attr("fill",RED);
g1.selectAll(".lo").data(doeLowDots).join("ellipse").attr("cx",d=>x(d)).attr("cy",yDoe(doeLevels[3])).attr("rx",4).attr("ry",4.5).attr("fill","#00ff00");
title("DoE Point",89,74,74);

// Archicortex
const g2=svg.append("g").attr("clip-path","url(#p2)");
level(g2,archiLevels[0],yArchi,"#00e600","10,3,2,3",2298);level(g2,archiLevels[1],yArchi,RED,"10,3,2,3",2298);
poly(g2,archiGreen,yArchi,"#00f000");
poly(g2,archiRed,yArchi,"#ff0000");
title("Archicortex",89,373,83);

// Neocortex
const g3=svg.append("g").attr("clip-path","url(#p3)");
poly(g3,neoGray,yNeo,"#8c8c8c",1,"3,3");
poly(g3,neoYellow,yNeo,YEL);
poly(g3,neoCyan,yNeo,"#00e6f0");
[[neoTrendGreen,"#00ee00"],[neoTrendRed,RED]].forEach(([t,c])=>{
  g3.append("line").attr("x1",x(t[0][0])).attr("y1",yNeo(t[0][1])).attr("x2",x(t[1][0])).attr("y2",yNeo(t[1][1])).attr("stroke",c).attr("stroke-width",2.6).attr("shape-rendering","crispEdges");
});
title("Neocortex",89,728,74);

// Price panel
const g4=svg.append("g").attr("clip-path","url(#p4)");
const bars=opens.map((o,i)=>({i,o,c:closes[i],h:highs[i],l:lows[i]})).filter(d=>d.o!==null);
g4.selectAll(".w").data(bars).join("line").attr("x1",d=>x(d.i)+.5).attr("x2",d=>x(d.i)+.5).attr("y1",d=>yPrice(d.h)).attr("y2",d=>yPrice(d.l)).attr("stroke","#fff").attr("shape-rendering","crispEdges");
g4.selectAll(".b").data(bars).join("rect").attr("x",d=>x(d.i)-2).attr("width",5)
  .attr("y",d=>yPrice(Math.max(d.o,d.c))).attr("height",d=>Math.max(2,Math.abs(yPrice(d.o)-yPrice(d.c))))
  .attr("fill",d=>d.c>=d.o?GRN:RED).attr("shape-rendering","crispEdges");
function dots(arr,rx,ry,fill){g4.append("g").selectAll("ellipse").data(arr).join("ellipse").attr("cx",d=>x(d[0])+.5).attr("cy",d=>yPrice(d[1])).attr("rx",rx).attr("ry",ry).attr("fill",fill);}
function plus(arr,color){
  const g=g4.append("g").attr("stroke",color).attr("stroke-width",2.4);
  arr.forEach(d=>{const cx=x(d[0])+.5,cy=yPrice(d[1]);
    g.append("line").attr("x1",cx-5.5).attr("x2",cx+5.5).attr("y1",cy).attr("y2",cy);
    g.append("line").attr("x1",cx).attr("x2",cx).attr("y1",cy-6).attr("y2",cy+6);
    g.append("circle").attr("cx",cx).attr("cy",cy).attr("r",1.8).attr("fill",color);});
}
dots(bigSilver,6,6.5,"#c0c0c0");
dots(bigOrange,6,6.5,"#ffa860");
dots(bigRed,6,6.5,RED);
dots(bigGreen,6,6.5,"#00ff00");
dots(tealDots,4,4,"#3c9f6c");
dots(blueDots,4,4,"#0000ff");
dots(smallWhite,3,3,"#fff");
dots(smallGray,3,3,"#808080");
plus(tealPlus,"#3c9f6c");
plus(redPlus,RED);
dots(rings,6,6.5,RED);
dots(rings,3,3,"#fff");

// legend row
const LY=1097;
title("EW-Croc Longsignale Abstandstest 3",88.5,LY,271);
title("EW-Croc Shortsignale Abstandstest 3",380,LY,275);
title("ICE Bear/Bull 1 Punkt/Kreis",675,LY,201);
title("$SPX",894,LY,43,"#fff");
title("S&P 500 Index",1005,LY,110,"#fff");
title("1 Day",1124,LY,43,"#fff");
function dd(x0,w,label){
  svg.append("rect").attr("x",x0+.5).attr("y",1083.5).attr("width",w).attr("height",16).attr("fill","#000").attr("stroke","#fff").attr("shape-rendering","crispEdges");
  const cx=x0+w-8;svg.append("path").attr("d",`M${cx-3} 1090H${cx+3}L${cx} 1094Z`).attr("fill","#fff");
  if(label)svg.append("text").attr("x",x0+3).attr("y",LY).attr("fill","#fff").attr("font-size",16).text(label);
}
dd(946,17);dd(974,21,"I");dd(1177,18);
svg.append("rect").attr("x",1205).attr("y",1083).attr("width",28).attr("height",17).attr("fill",RED);
svg.append("text").attr("x",1209).attr("y",LY).attr("fill","#a00000").attr("font-size",16).text("R");
svg.append("path").attr("d","M1222 1090H1229L1225.5 1094Z").attr("fill","#400000");

// Psychator
svg.append("text").attr("x",1360).attr("y",1245).attr("fill",YEL).attr("stroke",YEL).attr("stroke-width",1.2).attr("font-size",57).attr("font-weight","bold").attr("font-style","italic").attr("textLength",288).attr("lengthAdjust","spacingAndGlyphs").text("Psychator");

// last price tags
svg.append("path").attr("d","M5 1577H76L84 1585.5L76 1594H5Z").attr("fill","#00ff00");
svg.append("path").attr("d","M2346 1585.5L2354 1577H2423V1594H2354Z").attr("fill","#00ff00");
svg.append("text").attr("x",75).attr("y",1591).attr("text-anchor","end").attr("fill","#0a5a0a").attr("font-size",16).attr("font-weight","bold").text(f2(lastPrice));
svg.append("text").attr("x",2355).attr("y",1591).attr("fill","#0a5a0a").attr("font-size",16).attr("font-weight","bold").text(f2(lastPrice));

// stacked scale blocks
[[4,AL],[AR+1,2424]].forEach(([a,b])=>{
  const g=svg.append("g").attr("shape-rendering","crispEdges");
  g.append("rect").attr("x",a).attr("y",1871).attr("width",b-a).attr("height",25).attr("fill","#00e600");
  svg.append("text").attr("x",(a+b)/2).attr("y",1888).attr("text-anchor","middle").attr("fill","#0a5a0a").attr("font-size",14).attr("font-weight","bold").text(f2(lastPrice));
  const l=svg.append("g").attr("shape-rendering","crispEdges");
  d3.range(1862,1897,3).forEach(v=>l.append("rect").attr("x",a).attr("y",v).attr("width",b-a).attr("height",1).attr("fill","#fff"));
  l.append("rect").attr("x",a).attr("y",1895).attr("width",b-a).attr("height",1).attr("fill","#fff");
});

// top-right chart icon
svg.append("path").attr("d","M2379 80L2388 73L2396 80L2411 66").attr("fill","none").attr("stroke","#3f5070").attr("stroke-width",1.3);
svg.append("path").attr("d","M2379 87L2387 80V83H2395V91H2387V94Z").attr("fill","#4aa070");
svg.append("path").attr("d","M2412 87L2404 80V83H2396V91H2404V94Z").attr("fill","#e07058");
</script></body></html>
